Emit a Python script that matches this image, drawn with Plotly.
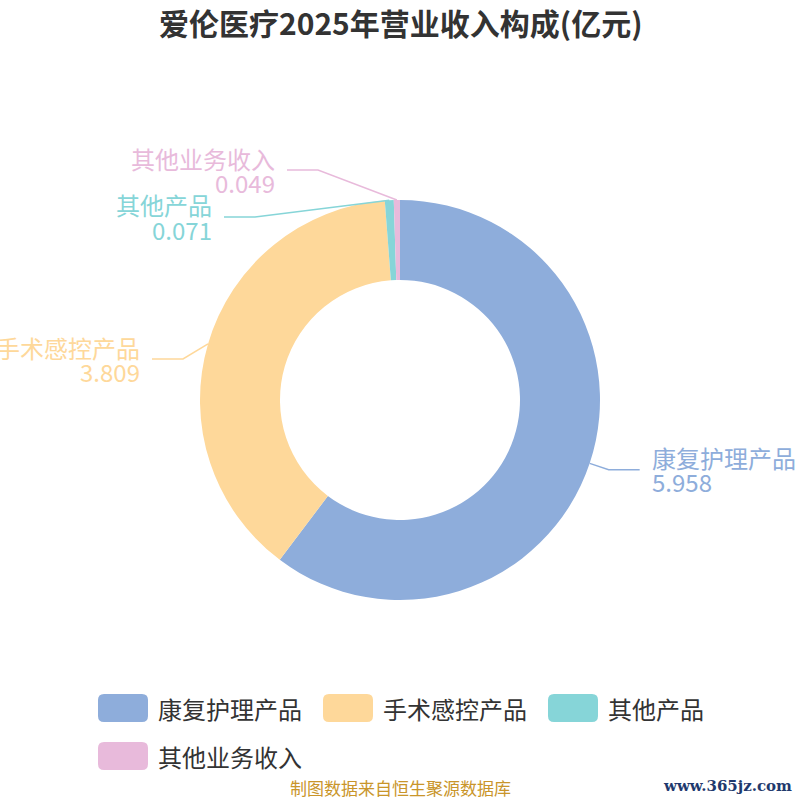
import math
import plotly.graph_objects as go

# ---- data ----
categories = ["康复护理产品", "手术感控产品", "其他产品", "其他业务收入"]
values = [5.958, 3.809, 0.071, 0.049]
value_labels = ["5.958", "3.809", "0.071", "0.049"]
colors = ["#8eaddb", "#fed89a", "#86d5d8", "#e8badb"]
title_text = "爱伦医疗2025年营业收入构成(亿元)"
footer_text = "制图数据来自恒生聚源数据库"
brand_text = "www.365jz.com"

# ---- layout constants (pixels) ----
W = H = 800
CX, CY = 400, 400
R_OUT = 200
LEN1 = 20
LEN2 = 31
GAP = 10
LINE_STEP = 12
# label elbow overrides (overlap avoidance), in px
elbow_override = {1: (183, 359), 2: (255, 217), 3: (318, 170)}
LABEL_FONT = 24
legend_rows = [[0, 1, 2], [3]]
legend_x = [98, 323, 548]
legend_row_y = [708, 756]
MK_W, MK_H, MK_R = 50, 28, 6


def X(px):
    return px / W


def Y(py):
    return 1 - py / H


fig = go.Figure()
fig.add_trace(go.Pie(
    labels=categories, values=values, hole=0.6, sort=False,
    direction="clockwise", rotation=0, textinfo="none",
    marker=dict(colors=colors, line=dict(width=0)),
    domain=dict(x=[X(CX - R_OUT), X(CX + R_OUT)], y=[Y(CY + R_OUT), Y(CY - R_OUT)]),
    showlegend=False, hoverinfo="label+value",
))

shapes = []
annotations = []
total = sum(values)
cum = 0.0
for i, v in enumerate(values):
    mid = (cum + v / 2) / total * 2 * math.pi
    cum += v
    dx, dy = math.sin(mid), -math.cos(mid)
    sx, sy = CX + R_OUT * dx, CY + R_OUT * dy
    if i in elbow_override:
        ex, ey = elbow_override[i]
    else:
        ex, ey = CX + (R_OUT + LEN1) * dx, CY + (R_OUT + LEN1) * dy
    side = 1 if dx > 0 else -1
    hx = ex + side * LEN2
    shapes.append(dict(
        type="path", xref="paper", yref="paper",
        path=f"M {X(sx)} {Y(sy)} L {X(ex)} {Y(ey)} L {X(hx)} {Y(ey)}",
        line=dict(color=colors[i], width=1.5),
    ))
    for k, txt in enumerate([categories[i], value_labels[i]]):
        annotations.append(dict(
            xref="paper", yref="paper", x=X(hx + side * GAP),
            y=Y(ey + (k * 2 - 1) * LINE_STEP),
            xanchor="left" if side > 0 else "right", yanchor="middle",
            text=txt, showarrow=False,
            font=dict(size=LABEL_FONT, color=colors[i], family="Noto Sans CJK SC"),
        ))

# custom legend
for r, row in enumerate(legend_rows):
    for j, idx in enumerate(row):
        x0 = legend_x[j]
        yc = legend_row_y[r]
        x1 = x0 + MK_W
        y0, y1 = yc - MK_H / 2, yc + MK_H / 2
        rr = MK_R
        path = (f"M {X(x0 + rr)} {Y(y0)} L {X(x1 - rr)} {Y(y0)} Q {X(x1)} {Y(y0)} {X(x1)} {Y(y0 + rr)} "
                f"L {X(x1)} {Y(y1 - rr)} Q {X(x1)} {Y(y1)} {X(x1 - rr)} {Y(y1)} "
                f"L {X(x0 + rr)} {Y(y1)} Q {X(x0)} {Y(y1)} {X(x0)} {Y(y1 - rr)} "
                f"L {X(x0)} {Y(y0 + rr)} Q {X(x0)} {Y(y0)} {X(x0 + rr)} {Y(y0)} Z")
        shapes.append(dict(type="path", xref="paper", yref="paper", path=path,
                           fillcolor=colors[idx], line=dict(width=0)))
        annotations.append(dict(
            xref="paper", yref="paper", x=X(x1 + 8), y=Y(yc),
            xanchor="left", yanchor="middle", text=categories[idx], showarrow=False,
            font=dict(size=24, color="#333333", family="Noto Sans CJK SC"),
        ))

# title & footer
annotations.append(dict(
    xref="paper", yref="paper", x=0.5, y=Y(22), xanchor="center", yanchor="middle",
    text=f"<b>{title_text}</b>", showarrow=False,
    font=dict(size=30, color="#333333", family="Noto Sans CJK SC"),
))
annotations.append(dict(
    xref="paper", yref="paper", x=0.5, y=Y(787), xanchor="center", yanchor="middle",
    text=footer_text, showarrow=False,
    font=dict(size=17, color="#c9952a", family="Noto Sans CJK SC"),
))
annotations.append(dict(
    xref="paper", yref="paper", x=X(794), y=Y(786), xanchor="right", yanchor="middle",
    text=f"<b>{brand_text}</b>", showarrow=False,
    font=dict(size=15, color="#1f3a6e", family="DejaVu Serif"),
))

fig.update_layout(
    width=W, height=H, margin=dict(l=0, r=0, t=0, b=0),
    paper_bgcolor="white", plot_bgcolor="white",
    shapes=shapes, annotations=annotations, showlegend=False,
)
fig.write_html(
    "out.html",
    config={"displayModeBar": False},
    post_script="document.body.style.margin='0';document.body.style.overflow='hidden';",
)
